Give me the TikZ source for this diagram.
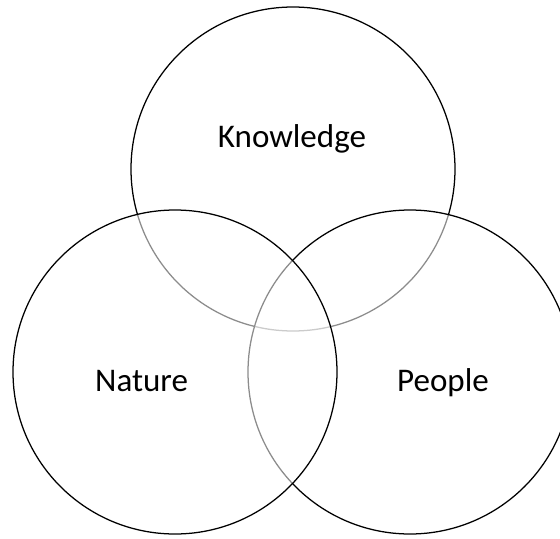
\documentclass[tikz,border=0pt]{standalone}
\usepackage{fontspec}
\setmainfont{Carlito}
\definecolor{valkoinen}{HTML}{FFFFFF}
\tikzset{piiri/.style={draw=black, line width=0.9pt, fill=valkoinen, fill opacity=0.55}}
\tikzset{teksti/.style={anchor=base, font=\fontsize{23.5}{28}\selectfont}}

\begin{document}
\begin{tikzpicture}
				\useasboundingbox (0,0) rectangle (14,-13.45);
				\clip (0,0) rectangle (14,-13.45);
				\draw[piiri] (7.325,-4.225) circle(4.05);
				\draw[piiri] (10.25,-9.3) circle(4.05);
				\draw[piiri] (4.375,-9.3) circle(4.05);
				\node[teksti] (knowledge) at (7.3,-3.675) {Knowledge};
				\node[teksti] (nature) at (3.54,-9.79) {Nature};
				\node[teksti] (people) at (11.075,-9.79) {People};
			\end{tikzpicture}
\end{document}
